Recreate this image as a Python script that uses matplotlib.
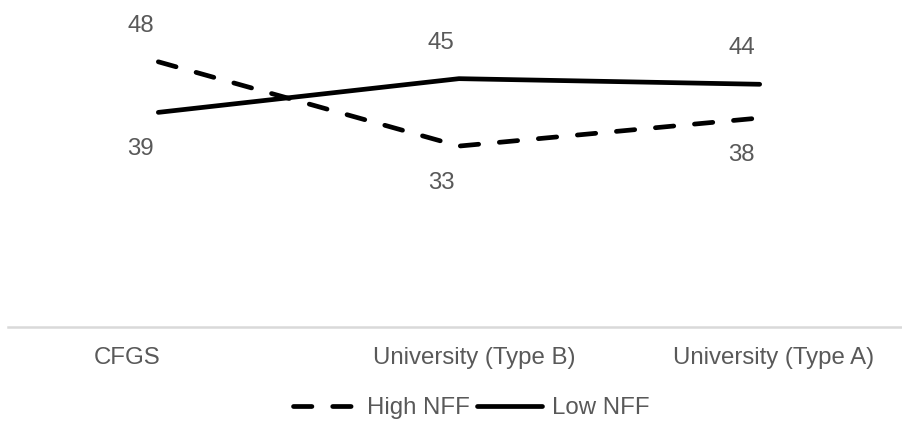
import matplotlib
matplotlib.use("Agg")
import matplotlib.pyplot as plt

# data
categories = ["CFGS", "University (Type B)", "University (Type A)"]
high_nff = [48, 33, 38]
low_nff = [39, 45, 44]

# horizontal nudge (pixels) of each category label, as in the original
cat_shift = [-31, 15, 14]

plt.rcParams["font.family"] = ["Liberation Sans", "DejaVu Sans"]
GREY = "#595959"
FS = 17.3

fig = plt.figure(figsize=(9.02, 4.24), dpi=100)
ax = fig.add_axes([8 / 902, 97 / 424, 902 / 902, 327 / 424])

x = list(range(len(categories)))
l_high, = ax.plot(x, high_nff, color="black", lw=3.4, ls=(0, (3.9, 4.4)),
                  dash_capstyle="round", solid_capstyle="round", label="High NFF")
l_low, = ax.plot(x, low_nff, color="black", lw=3.4,
                 solid_capstyle="round", label="Low NFF")

ax.set_xlim(-0.5, 2.5)
ax.set_ylim(0.8, 59)

# data labels: top series above, bottom series below
for i in x:
    for v, other in ((high_nff[i], low_nff[i]), (low_nff[i], high_nff[i])):
        dy = 36 if v >= other else -37
        ax.annotate(str(v), (i, v), xytext=(-18, dy), textcoords="offset pixels",
                    ha="center", va="center", fontsize=FS, color=GREY)

# category labels
for i, (cat, dx) in enumerate(zip(categories, cat_shift)):
    ax.annotate(cat, (i, 0), xycoords=("data", "axes fraction"),
                xytext=(dx, -31), textcoords="offset pixels",
                ha="center", va="center", fontsize=FS, color=GREY)

for s in ["top", "right", "left"]:
    ax.spines[s].set_visible(False)
ax.spines["bottom"].set_color("#d9d9d9")
ax.spines["bottom"].set_linewidth(1.8)
ax.set_xticks([])
ax.set_yticks([])

fig.legend(handles=[l_high, l_low], loc="center", bbox_to_anchor=(471 / 902, 16 / 424),
           ncol=2, frameon=False, fontsize=FS, labelcolor=GREY,
           handlelength=2.7, handletextpad=0.4, columnspacing=0.3, borderpad=0)

fig.savefig("out.png", dpi=100)
